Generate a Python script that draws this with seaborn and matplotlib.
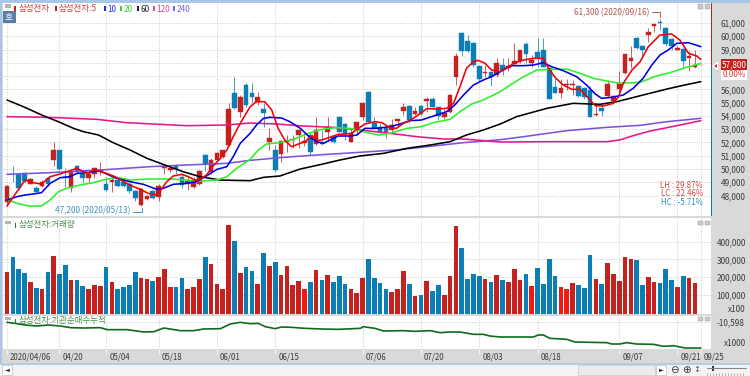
import numpy as np
import pandas as pd
import matplotlib
matplotlib.use("Agg")
import matplotlib.pyplot as plt
from matplotlib.patches import Rectangle, Polygon
import seaborn as sns

# daily candles, 2020/04/06 .. 2020/09/25
open_ = [47500,49650,49600,49700,48900,48600,48750,49300,50700,51400,49400,48550,50250,49600,49300,49650,49800,48850,49000,49200,
         49050,48850,48350,47250,47750,48350,47900,50050,49950,50250,49400,48850,48650,48900,51050,49800,50700,50900,51800,55750,
         54300,56350,55750,55050,54500,52050,51400,51150,52050,52150,52550,51950,52550,51900,52050,52800,52450,53900,53400,52050,
         52950,53900,55800,53500,53150,53100,52950,53650,54350,54750,54150,54750,55150,55250,54650,53950,54300,56900,60250,59650,
         59500,57750,57200,57300,57100,57850,57600,57900,58100,59400,57950,58850,58950,57600,56150,55750,56300,56300,56250,56100,
         55950,54050,54600,55500,55150,56000,57250,58100,59900,59250,60100,60800,61100,60600,59800,59000,59050,58350,57650,57800]
high = [48800,50200,49650,49800,49300,48700,49150,49350,52000,51400,50050,49900,50300,49800,49900,50150,50550,49400,49400,49300,
        49300,49050,48450,48550,48050,48400,48900,50400,50200,50350,49650,49400,49400,49900,51150,50800,51250,51400,54950,56950,
        55550,56450,56450,55800,54950,53050,51800,52200,52550,52550,52950,52700,52700,53900,52950,53900,52550,53950,53500,53050,
        53550,55000,55900,53900,53450,53200,53750,53800,55000,54800,54650,54800,55450,55450,54700,54550,55650,58750,60300,60100,
        59550,57850,57850,57400,58350,58350,58350,59500,58950,59600,58600,59900,59900,57700,56900,56750,56750,56700,56350,56150,
        56250,54950,54800,56700,55600,57350,58650,59250,59950,59350,60650,60950,61300,60700,59850,59250,59150,58900,58950,57800]
low = [47200,49000,48400,48950,48850,48250,48650,48700,50250,49950,48650,48300,49650,48950,49050,49300,49550,48350,48300,48650,
       48650,48200,47550,47200,47650,47700,47550,49650,49800,49650,48600,48400,48550,48800,49850,49650,50600,50850,51750,54500,
       53950,54700,54950,54800,53150,51450,49800,50550,51250,51550,51550,51700,51050,51800,51800,52200,51950,52750,52200,52000,
       52550,53700,53550,53050,52700,52300,52800,53250,54050,53450,54100,54050,54300,54550,53750,53750,54200,56350,58500,58850,
       57700,56650,56900,56250,56950,57100,57350,57850,58000,57950,57700,57700,57700,55300,55700,55350,55950,55550,55450,55300,
       53950,54000,54000,55450,55050,55700,57150,57600,59050,58350,59600,60350,60450,59250,58950,58950,57700,57400,57600,57800]
close = [48700,49600,48600,49100,49250,48300,49000,48900,51400,50000,49300,49800,49800,49350,49650,50100,49900,48400,49150,48700,
         48750,48350,47850,48500,48000,47850,48750,50200,50050,50000,48800,49100,49200,49850,50400,50700,51200,51400,54500,54600,
         55400,54800,55400,55400,54250,52300,49900,52100,52200,52250,52900,52100,51300,52900,51850,53200,52050,52800,52650,52700,
         53550,55000,53550,53050,52800,52800,53350,53750,54700,53700,54350,54150,55300,54650,54000,54200,55550,58550,58900,58900,
         57850,56750,57300,56950,57950,57450,57750,58150,58950,58650,58200,58350,57700,55300,55750,56100,56400,56400,55500,55400,
         53950,54150,54350,56400,55500,56450,58650,58350,59100,58950,60300,60900,61000,59400,59300,59100,58100,58500,57800,57800]
volume = [231000,312000,246000,224000,173000,139000,136000,231000,319000,216000,269000,183000,183000,151000,136000,154000,151000,258000,173000,132000,
          147000,158000,231000,198000,190000,179000,201000,246000,143000,143000,194000,136000,147000,190000,312000,273000,162000,136000,494000,404000,
          224000,256000,235000,162000,338000,265000,284000,213000,263000,154000,179000,132000,173000,243000,183000,213000,173000,209000,162000,136000,
          113000,194000,303000,194000,166000,132000,117000,136000,235000,162000,94000,98000,179000,124000,154000,102000,205000,486000,364000,190000,
          216000,209000,190000,173000,213000,183000,173000,246000,183000,216000,151000,250000,162000,301000,209000,143000,136000,169000,154000,139000,
          325000,190000,162000,280000,216000,181000,312000,303000,297000,154000,201000,173000,166000,246000,184000,147000,205000,198000,169000,0]
bright_days = [28,51,90,95,96]

# moving averages, read at these candle positions
ma5_pos = [0,1.7,3.1,4.5,5.9,7.4,9.1,10.8,12,13.1,14,15.1,16,17.1,18.5,20,21.4,22.8,24.2,25.4,26.2,27.4,28.5,30,31.1,32.2,33.1,34.2,35.4,36.5,37.7,38.8,40,41.7,
           42.8,44.2,45.4,46.5,47.7,48.8,50,51.1,52.3,53.4,54.5,55.7,56.8,58,59.1,60.3,61.4,63.1,64.3,65.7,66.8,68,69.1,70.5,72,73.7,75.4,76.6,77.7,78.8,80,80.8,82,83.1,84.6,
           85.7,86.9,88.6,90.3,92,92.9,94,95.4,96.9,98.3,99.5,100.9,102.3,104,104.9,105.7,107.2,108.6,110,112,114,115.4,116.9,118.3,119]
ma5 = [47209,48289,49168,48967,48867,49419,49620,49871,50047,49796,49721,49972,49796,49671,49419,49042,48716,48490,48163,48038,48289,49042,49470,49595,49419,49168,49218,49545,50248,50751,51429,52434,53439,54695,
       55071,55071,54444,53062,52132,51680,51881,52057,52484,52132,52258,52434,52610,52635,52685,53062,53388,53564,53489,53112,53062,53439,53640,54067,54544,54519,54569,54946,56202,57583,58086,58186,57960,57458,57332,
       57583,57960,58211,58337,58337,57583,56905,56327,56001,56001,55448,54770,54745,54946,55448,56453,57458,58086,59216,60095,60171,59718,58714,58513,58262]
ma10_pos = [0,1.7,3.1,4.5,5.9,7.4,9.1,10.8,12,14,15.7,17.1,18.8,21.1,23.4,25.7,26.8,28.5,30.8,32.5,34.2,36,37.7,38.8,40,41.7,
            42.8,44,45.1,47.1,48.5,50.3,51.7,53.1,54.3,55.4,56.8,58.8,60,61.4,63.4,65.7,67.4,69.1,71.1,72.8,75.4,76.8,78.3,80,81.7,83.1,84.6,
            86.3,88.6,90.3,92,93.4,95.4,97.7,99.4,100.9,102,103.7,105.7,107.4,109.1,110.6,112,113.4,114.9,116.9,119]
ma10 = [47661,47912,48038,48113,48213,48917,49344,49419,49671,49721,49872,49620,49294,49043,48841,48465,48540,48841,48917,49043,49470,49972,50173,50927,51931,52685,
        53313,53815,53891,53840,53564,53062,52484,52057,51931,52183,52484,52484,52559,53062,53062,53187,53388,53640,53690,53941,54318,54820,55574,56327,56704,56955,57332,
        57784,57784,57835,58010,57709,57408,56955,56327,55649,55322,55398,55574,56076,56830,57835,58589,58965,59467,59517,59216]
ma20_pos = [0,1.7,3.7,5.9,7.4,8.8,10.2,12.5,14.8,16.5,18.8,21.1,24.5,28,30.8,32.5,34.2,36,37.7,39.4,41.7,
            43.1,44.5,46.8,49.1,51.7,54,56.3,58.8,61.1,63.7,65.7,68.6,71.1,73.1,76,77.7,79.7,81.7,84.6,
            86.3,88.6,90.9,93.7,96,98.3,100.6,102.9,105.1,108.6,111.4,113.7,116,119]
ma20 = [47711,47410,47209,47209,47661,48289,48540,48791,48967,49168,49369,49168,49243,49243,49168,49043,49118,49168,49419,50047,50726,
        51429,51881,51982,52232,52685,52986,53112,53062,52811,52559,52685,53062,53187,53489,53740,54318,54895,55197,55825,
        56327,56955,57458,57508,57533,57207,56830,56629,56453,56528,57006,57257,57583,57960]
ma60_pos = [0,2.8,6.2,8.8,11.4,13.1,15.7,18.2,21.1,24,27.4,30.2,33.1,36.5,38.8,41.7,44,46.8,50.3,53.7,57.1,60.5,64.6,68.6,72.6,76,78.8,81.7,84.6,87.4,92.6,97.1,101.7,104.6,109.1,113.2,116,119]
ma60 = [55197,54695,54017,53564,53062,52811,52559,51982,51429,50801,50248,49796,49419,49168,49143,49118,49369,49470,49997,50324,50675,50977,51178,51555,51806,52057,52559,52936,53388,53941,54569,54946,54871,55071,55574,56026,56302,56579]
ma120_pos = [0,3.9,8.5,15.4,20.5,26.2,30.8,37.7,41.7,46.3,50.8,56,60.6,65.7,70.3,74.8,78.3,84.6,93,102.9,105.1,107.4,110.3,113.2,116,119]
ma120 = [53941,53916,53866,53740,53489,53363,53263,53313,53464,53388,53238,53137,52936,52685,52434,52258,52258,52032,52057,52057,52183,52507,52861,53112,53363,53639]
ma240_pos = [0,7.4,16,24.5,30.8,37.7,41.7,47.4,53.1,60.5,67.4,73.1,78.3,84.6,88.6,96,102.9,108.6,113.2,119]
ma240 = [49595,49721,49922,50173,50299,50424,50650,50876,51052,51253,51454,51730,51982,52207,52434,52886,53137,53288,53564,53815]

inst_pos = [0,1.7,3.1,5.1,7.1,9.1,10.9,13.2,16,17.2,20.6,23.5,25.2,26.9,29.7,32,33.7,36.6,38.3,40,41.7,
            43.1,44.3,46,47.1,48.8,51.1,54,56.8,60.6,61.1,63.1,64.6,68,70,72.6,74.3,76,77.7,80,81.7,82.8,84.6,
            90.3,91.1,92,93.1,96,97.4,102.9,103.7,105.1,106.3,108,110.9,112.6,114.3,116.3,119]
inst = [-10798,-11198,-11598,-11898,-11598,-11898,-12398,-12498,-12398,-12998,-12998,-13698,-13598,-12498,-13298,-13298,-12798,-12698,-11298,-10798,-11198,
        -11098,-12098,-12698,-12198,-12298,-12598,-12798,-12898,-12598,-12098,-12598,-13398,-13298,-13498,-13298,-13898,-13698,-13698,-14398,-14398,-14898,-15198,
        -15198,-14598,-14598,-15598,-15898,-16698,-16898,-17298,-17298,-16898,-17298,-17398,-17998,-17798,-18498,-18498]

date_pos = [0,9,17,26,36,46,61,71,81,91,105,115,119]
date_labels = ["2020/04/06","04/20","05/04","05/18","06/01","06/15","07/06","07/20","08/03","08/18","09/07","09/21","09/25"]
price_ticks = list(range(48000, 62000, 1000))
volume_ticks = [100000, 200000, 300000, 400000]

RED = "#c4211f"
BRIGHT = "#ee1b14"
BLUE = "#0d7db5"
GRID = "#c9c9c9"
GREY = "#d9d9d9"
TXT = "#3c3c3c"
W, H = 750, 376
X0, X1 = -0.69, 120.75

sns.set_theme(style="white")
plt.rcParams['font.family'] = ['Noto Sans CJK KR', 'DejaVu Sans']

fig = plt.figure(figsize=(7.5, 3.76), dpi=100, facecolor=GREY)


def panel(left, top, right, bottom):
    ax = fig.add_axes([left/W, 1-bottom/H, (right-left)/W, (bottom-top)/H], facecolor="white")
    for s in ax.spines.values():
        s.set_visible(False)
    ax.set_xlim(X0, X1)
    ax.set_xticks(date_pos)
    ax.set_xticklabels([])
    ax.grid(True, ls=":", lw=0.7, color=GRID)
    ax.set_axisbelow(True)
    ax.yaxis.tick_right()
    ax.tick_params(length=0, labelsize=5.9, labelcolor=TXT, pad=4)
    return ax


# price panel
ax = panel(3, 3, 711, 216)
ax.set_ylim(46456, 62507)
ax.set_yticks(price_ticks)
ax.set_yticklabels(["" if t in (57000, 58000) else f"{t:,}" for t in price_ticks])
ax.tick_params(axis="y", pad=7)

days = np.arange(len(open_))
o, h, l, c = map(np.array, (open_, high, low, close))
up = c >= o
colors = np.where(up, RED, BLUE)
ax.vlines(days, l, h, colors=colors, lw=0.7, alpha=0.75, zorder=2)
ax.bar(days, np.abs(c-o), bottom=np.minimum(o, c), width=0.8, color=colors,
       edgecolor=colors, linewidth=0.3, zorder=3)

ma_lines = [(ma240_pos, ma240, "#7a55dc"), (ma120_pos, ma120, "#e8168c"), (ma60_pos, ma60, "#000000"),
            (ma20_pos, ma20, "#2cf02c"), (ma10_pos, ma10, "#0000e0"), (ma5_pos, ma5, "#f00008")]
for pos, vals, col in ma_lines:
    sns.lineplot(x=pos, y=vals, color=col, lw=1.15, ax=ax, estimator=None, zorder=4)
ax.set_xlabel("")
ax.set_ylabel("")

# volume panel
base = 8800
vol = panel(3, 218, 711, 314.3)
kind = ["up" if u else "down" for u in up]
for d in bright_days:
    kind[d] = "bright"
vdf = pd.DataFrame({"day": days, "height": np.array(volume) + base, "kind": kind})
sns.barplot(data=vdf[vdf["day"] < 119], x="day", y="height", hue="kind", native_scale=True, dodge=False,
            palette={"up": RED, "down": BLUE, "bright": BRIGHT}, legend=False, width=0.8, bottom=-base,
            saturation=1, linewidth=0, ax=vol)
vol.set_xlim(X0, X1)
vol.set_ylim(-base, 533000)
vol.set_yticks(volume_ticks)
vol.set_yticklabels([f"{t:,}" for t in volume_ticks])
vol.set_xticks(date_pos)
vol.set_xticklabels([])
vol.set_xlabel("")
vol.set_ylabel("")

# institutional net buying panel
sub = panel(3, 316, 711, 349)
sns.lineplot(x=inst_pos, y=inst, color="#0f6b1c", lw=1.2, ax=sub, estimator=None)
sub.set_xlim(X0, X1)
sub.set_ylim(-18798, -8898)
sub.set_yticks([-10598])
sub.set_yticklabels(["-10,598"])
sub.set_xlabel("")
sub.set_ylabel("")

# date strip
dates = fig.add_axes([3/W, 1-363/H, 708/W, 14/H], facecolor=GREY)
dates.axis("off")
dates.set_xlim(X0, X1)
dates.set_ylim(0, 1)
dates.vlines(date_pos, 0.65, 1, color="#f4f4f4", lw=0.7)
for p, t in zip(date_pos, date_labels):
    dates.annotate(t, (p, 0.42), xycoords="data", xytext=(2.2, 0), textcoords="offset points",
                   fontsize=5.7, color=TXT, va="center", ha="left", annotation_clip=False)

# chrome drawn in pixel coordinates
over = fig.add_axes([0, 0, 1, 1], facecolor="none")
over.axis("off")
over.set_xlim(0, W)
over.set_ylim(H, 0)


def rect(x, y, w, h, col, **kw):
    over.add_patch(Rectangle((x, y), w, h, facecolor=col, edgecolor=kw.pop("ec", "none"), lw=kw.pop("lw", 0.5), **kw))


def label(x, y, s, col=TXT, size=6.1, ha="left", **kw):
    over.text(x, y, s, color=col, fontsize=size, ha=ha, va="center", **kw)


# window edges
rect(0, 0, 750, 2.5, "#a8c6e6")
rect(0, 0, 2.3, 363, "#a8c6e6")
rect(0, 363, 750, 13, "#f3f3f3")
rect(0, 362.5, 750, 2, "#b4cde6")

# price axis edge, current price marker
rect(710.5, 3, 1.6, 63, "#c4211f")
rect(710.5, 66, 1.6, 150, "#0d7db5")
over.add_patch(Polygon([[713, 66], [717.5, 62.5], [717.5, 69.5]], facecolor="#e0201c"))
rect(721, 59, 26, 11, "#c4211f")
rect(721, 70, 26, 9.5, "white")
label(734, 64.8, "57,800", "white", 5.9, ha="center")
label(734, 74.8, "0.00%", "#d23a36", 5.9, ha="center")
label(746, 309, "x100", TXT, 5.9, ha="right")
label(746, 344, "x1000", TXT, 5.9, ha="right")

# header legend
rect(5, 3.5, 6, 4.5, "#b5b5b5")
rect(14, 6, 1.6, 5, "#c4211f")
label(19, 9, "삼성전자", "#c8403c")
rect(55, 6, 1.6, 5, "#c4211f")
label(59, 9, "삼성전자:5", "#c8403c")
legend_items = [(104, "10", "#2430d8"), (120, "20", "#35d035"), (137, "60", "#222222"),
                (153, "120", "#e0469a"), (173, "240", "#7a62d0")]
for x, s, col in legend_items:
    rect(x, 6, 1.6, 5, col)
    label(x+3.5, 9, s, col, 5.9)
rect(2.5, 11, 13, 12, "#5b7da6")
label(9, 17, "호", "white", 6.3, ha="center")

# corner buttons
for y in (4, 220.5, 316.5):
    rect(698, y, 5, 4.5, "#c9c9c9", ec="#999999", lw=0.3)
    rect(705, y, 5, 4.5, "#c9c9c9", ec="#999999", lw=0.3)
for y in (220.5, 316.5):
    rect(5, y, 6, 3.5, "#b5b5b5")

# price annotations
label(574, 13, "61,300 (2020/09/16)", "#b4544f", 5.9)
over.plot([652, 660, 660], [12, 12, 17], color="#b4544f", lw=0.7)
label(55, 210.5, "47,200 (2020/05/13)", "#3f93bd", 5.9)
over.plot([133, 142, 142], [211.5, 211.5, 207.5], color="#3f93bd", lw=0.7)
label(703, 185, "LH : 29.87%", "#cc4a46", 5.7, ha="right")
label(703, 194, "LC : 22.46%", "#cc4a46", 5.7, ha="right")
label(703, 202.5, "HC : -5.71%", "#2f8fc0", 5.7, ha="right")

# sub panel titles
rect(14.5, 222.5, 1.6, 5, "#2e7d32")
label(19, 225, "삼성전자:거래량", "#4a8a4a")
rect(14.5, 318.5, 1.6, 5, "#2e7d32")
label(19, 321, "삼성전자:기관순매수누적", "#4a8a4a")

# bottom toolbar
rect(2, 365, 10, 10, "white", ec="#c0c0c0")
label(7, 370, "\u25c4", "#222222", 4.5, ha="center", family="DejaVu Sans")
rect(578, 365, 77, 10, "#ececec", ec="#c8c8c8")
rect(656, 365, 10, 10, "white", ec="#c0c0c0")
label(661, 370, "\u25ba", "#222222", 4.5, ha="center", family="DejaVu Sans")
label(674, 370, "\u2296", "#333333", 7.5, ha="center", family="DejaVu Sans")
label(686, 370, "\u2295", "#333333", 7.5, ha="center", family="DejaVu Sans")
label(697, 370, "\u2195", "#555555", 6, ha="center", family="DejaVu Sans")
over.plot([707, 746], [368, 368], color="#888888", lw=0.8)
rect(712, 365.5, 1.5, 5, "#333333")
over.vlines(np.arange(707, 746, 3), 373, 376, color="#999999", lw=0.5)

fig.savefig("out.png", dpi=100, facecolor=fig.get_facecolor())
